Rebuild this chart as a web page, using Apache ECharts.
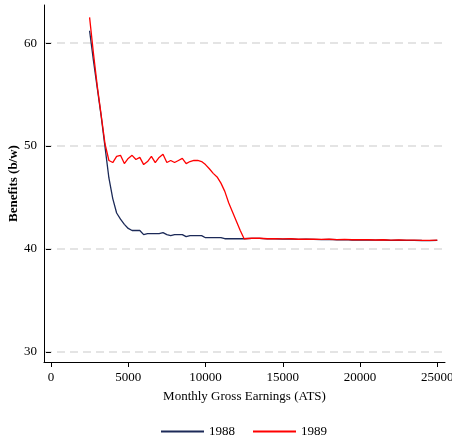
<!DOCTYPE html>
<html>
<head>
<meta charset="utf-8">
<script src="https://cdn.jsdelivr.net/npm/echarts@6/dist/echarts.min.js"></script>
<style>html,body{margin:0;padding:0;background:#fff}#c{width:452px;height:447px}</style>
</head>
<body>
<div id="c"></div>
<script>
var earnings = [2500,2750,3000,3250,3500,3750,4000,4250,4500,4750,5000,5250,5500,5750,6000,6250,6500,6750,7000,7250,7500,7750,8000,8250,8500,8750,9000,9250,9500,9750,10000,10250,10500,10750,11000,11250,11500,11750,12000,12250,12500,
13000,13500,14000,14500,15000,15500,16000,16500,17000,17500,18000,18500,19000,19500,20000,20500,21000,21500,22000,22500,23000,23500,24000,24500,25000];
var benefits1988 = [61.2,58.3,55.6,52.9,49.9,46.9,44.9,43.5,42.9,42.4,42.0,41.8,41.8,41.8,41.4,41.5,41.5,41.5,41.5,41.6,41.4,41.3,41.4,41.4,41.4,41.2,41.3,41.3,41.3,41.3,41.1,41.1,41.1,41.1,41.1,41.0,41.0,41.0,41.0,41.0,41.0,
41.03,41.03,40.98,41.0,40.96,40.98,40.93,40.95,40.93,40.91,40.93,40.9,40.91,40.88,40.9,40.88,40.86,40.88,40.85,40.86,40.84,40.85,40.83,40.82,40.85];
var benefits1989 = [62.5,59.0,55.8,53.0,50.2,48.6,48.4,49.0,49.1,48.3,48.8,49.1,48.7,48.9,48.2,48.5,49.0,48.4,48.9,49.2,48.4,48.6,48.4,48.6,48.8,48.3,48.5,48.6,48.6,48.5,48.2,47.8,47.35,47.0,46.4,45.6,44.5,43.6,42.7,41.8,41.0,
41.05,41.05,41.0,41.02,40.98,41.0,40.95,40.97,40.95,40.93,40.95,40.92,40.93,40.9,40.92,40.9,40.88,40.9,40.87,40.88,40.86,40.87,40.85,40.84,40.87];
var yTicks = [30,40,50,60];
var xTicks = [0,5000,10000,15000,20000,25000];
var seriesNames = ['1988','1989'];

function pairs(xs, ys){ return xs.map(function(x,i){ return [x, ys[i]]; }); }

var font = 'Liberation Serif';
var chart = echarts.init(document.getElementById('c'), null, {renderer:'canvas'});
chart.setOption({
  animation:false,
  backgroundColor:'#fff',
  grid:[
    {left:44, right:7, top:5, bottom:85, containLabel:false, outerBoundsMode:'none'},
    {left:50.95, right:14.7, top:43.1, bottom:95, containLabel:false, outerBoundsMode:'none'}
  ],
  xAxis:[{
    gridIndex:0, type:'value', min:-450, max:25500,
    name:'Monthly Gross Earnings (ATS)', nameLocation:'middle', nameGap:28, nameMoveOverlap:false,
    nameTextStyle:{fontFamily:font, fontSize:13, color:'#000', verticalAlign:'top'},
    axisLine:{show:true, onZero:false, lineStyle:{color:'#000', width:1}},
    axisTick:{show:false}, axisLabel:{show:false}, splitLine:{show:false}
  },{
    gridIndex:1, type:'value', min:xTicks[0], max:xTicks[xTicks.length-1], interval:5000, offset:10,
    axisLine:{show:false}, splitLine:{show:false},
    axisTick:{show:true, length:5, lineStyle:{color:'#000'}},
    axisLabel:{fontFamily:font, fontSize:13, color:'#000', margin:9, formatter:function(v){ return String(v); }}
  }],
  yAxis:[{
    gridIndex:0, type:'value', min:29.03, max:63.7, minInterval:10, maxInterval:10,
    name:'Benefits (b/w)', nameLocation:'middle', nameGap:24, nameMoveOverlap:false,
    nameTextStyle:{fontFamily:font, fontSize:13, fontWeight:'bold', color:'#000'},
    axisLine:{show:true, onZero:false, lineStyle:{color:'#000', width:1}},
    axisTick:{show:false}, axisLabel:{show:false},
    splitLine:{show:true, showMinLine:false, showMaxLine:false, lineStyle:{color:'#dcdcdc', width:1.5, type:[8,5]}}
  },{
    gridIndex:1, type:'value', min:yTicks[0], max:yTicks[yTicks.length-1], interval:10, offset:7,
    axisLine:{show:false}, splitLine:{show:false},
    axisTick:{show:true, length:5, lineStyle:{color:'#000'}},
    axisLabel:{fontFamily:font, fontSize:13, color:'#000', margin:7}
  }],
  legend:{
    left:156, top:420, itemWidth:43, itemHeight:2, itemGap:18, icon:'rect',
    textStyle:{fontFamily:font, fontSize:13, color:'#000'},
    data:seriesNames
  },
  series:[
    {name:seriesNames[0], type:'line', xAxisIndex:0, yAxisIndex:0, data:pairs(earnings, benefits1988), showSymbol:false, symbol:'none',
     lineStyle:{color:'#1c2a58', width:1.3}, itemStyle:{color:'#1c2a58'}, z:2},
    {name:seriesNames[1], type:'line', xAxisIndex:0, yAxisIndex:0, data:pairs(earnings, benefits1989), showSymbol:false, symbol:'none',
     lineStyle:{color:'#ff0000', width:1.3}, itemStyle:{color:'#ff0000'}, z:3}
  ]
});
</script>
</body>
</html>
